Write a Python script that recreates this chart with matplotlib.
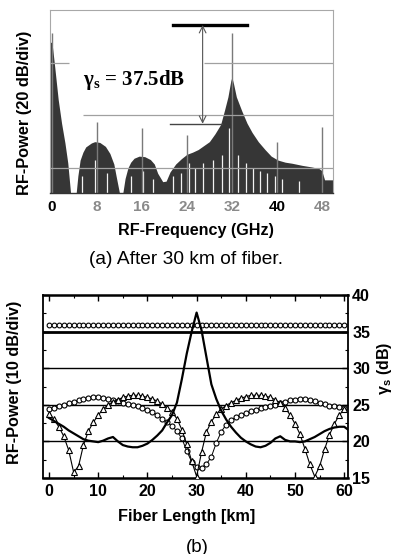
import numpy as np
import matplotlib
matplotlib.use("Agg")
import matplotlib.pyplot as plt
from matplotlib.ticker import MultipleLocator

plt.rcParams["font.family"] = ["Liberation Sans", "DejaVu Sans"]
plt.rcParams["mathtext.default"] = "regular"

###############################################################################
# Datos (a): espectro RF tras 30 km
###############################################################################

floor_db = -69.5

env_f = [-0.4, 0.0, 0.5, 1.1, 1.7, 2.3, 2.8, 3.3,
         4.3, 4.6, 5.0, 5.5, 6.0, 7.0, 7.6, 8.5, 9.5, 10.3, 11.0, 11.4, 12.0,
         12.6, 13.0, 13.5, 14.0, 14.6, 15.5, 16.5, 17.5, 18.2, 18.8, 19.7,
         20.3, 21.0, 22.0, 23.0, 24.0, 25.0, 26.0, 27.0, 28.0, 29.0, 30.0,
         30.7, 31.3, 31.8, 32.0, 32.3, 32.8, 33.8, 34.7, 35.6, 36.7, 37.9,
         39.0, 40.2, 41.5, 42.7, 44.5, 46.2, 47.5, 48.0, 48.5, 50.2]
env_db = [-12.0, -12.5, -22.0, -34.0, -43.0, -50.5, -58.0, floor_db,
          floor_db, -63.0, -57.0, -54.0, -52.0, -50.5, -50.0, -50.3, -51.8, -54.5, -58.5, -63.0, floor_db,
          floor_db, -64.0, -60.0, -57.8, -56.3, -55.5, -55.7, -56.8, -58.5, -62.0, -65.2,
          -65.0, -61.5, -58.5, -56.5, -54.8, -54.0, -53.0, -51.5, -50.0, -47.0, -43.5,
          -38.0, -33.0, -27.0, -25.5, -28.0, -33.0, -38.5, -43.0, -46.5, -50.0, -53.0,
          -55.5, -57.0, -57.8, -58.2, -59.0, -59.6, -60.2, -61.0, -64.5, -64.5]

spike_f = [0, 8, 16, 24, 32, 40, 48]
spike_db = [-8.7, -42.5, -45.0, -47.4, -8.7, -50.0, -44.4]

notch_f = [5.3, 7.6, 9.8, 14.0, 16.2, 18.0, 21.5, 23.0, 24.3, 25.4, 26.8,
           28.6, 30.2, 31.5, 33.1, 34.5, 35.8, 37.0, 38.2, 39.6, 41.0, 44.0]
notch_db = [-63.0, -57.0, -62.0, -63.0, -61.0, -64.0, -63.0, -62.0, -58.0, -60.0, -58.0,
            -57.0, -55.0, -45.0, -55.0, -58.0, -60.0, -61.0, -62.0, -63.0, -64.0, -65.0]

freq_ticks = [0, 8, 16, 24, 32, 40, 48]
freq_tick_colors = ["black", "#8a8a8a", "#8a8a8a", "#8a8a8a", "#8a8a8a", "black", "#8a8a8a"]

gamma_a = 37.5
ref_top_db = -5.7

###############################################################################
# Datos (b): potencia RF y gamma_s frente a longitud de fibra
###############################################################################

km = list(range(61))

circ = [24.4, 24.6, 24.8, 25.0, 25.2, 25.4, 25.6, 25.8, 25.9, 26.0,
        26.0, 25.9, 25.8, 25.6, 25.5, 25.3, 25.1, 25.0, 24.8, 24.6,
        24.3, 24.0, 23.6, 23.1, 22.6, 22.1, 21.4, 20.4, 18.7, 17.2,
        16.5, 16.4, 16.9, 17.9, 19.8, 21.3, 22.3, 22.9, 23.3, 23.6,
        23.9, 24.1, 24.3, 24.5, 24.7, 24.9, 25.0, 25.2, 25.4, 25.6,
        25.7, 25.8, 25.8, 25.7, 25.5, 25.3, 25.1, 24.9, 24.8, 24.7, 24.6]

tri = [23.8, 23.0, 22.0, 20.7, 18.8, 15.8, 16.6, 19.5, 21.4, 22.6,
       23.6, 24.4, 25.0, 25.4, 25.7, 26.0, 26.2, 26.3, 26.3, 26.2,
       26.0, 25.8, 25.5, 25.1, 24.6, 24.0, 23.1, 21.6, 19.6, 17.3,
       15.2, 18.5, 21.3, 22.7, 23.7, 24.4, 24.9, 25.3, 25.6, 25.9,
       26.1, 26.3, 26.3, 26.3, 26.2, 26.0, 25.7, 25.2, 24.6, 23.6,
       22.4, 21.0, 19.0, 16.9, 15.2, 16.6, 18.9, 20.9, 22.4, 23.6, 24.4]

km_g = km + [60.8]
gam = [23.2, 22.8, 22.4, 22.0, 21.5, 21.1, 20.7, 20.3, 20.1, 20.0,
       19.9, 20.1, 20.4, 20.6, 20.0, 19.5, 19.3, 19.2, 19.2, 19.4,
       19.7, 20.2, 20.8, 21.5, 22.6, 23.6, 25.3, 28.5, 32.0, 35.0,
       37.6, 35.2, 31.5, 27.8, 25.8, 24.2, 23.0, 22.0, 21.2, 20.5,
       20.0, 19.6, 19.3, 19.2, 19.4, 19.8, 20.4, 20.7, 20.2, 20.0,
       20.0, 19.9, 20.0, 20.3, 20.6, 21.0, 21.4, 21.7, 21.9, 22.0,
       22.0, 21.6]

top_circ = [35.9] * 61

###############################################################################
# Figura
###############################################################################

fig = plt.figure(figsize=(3.97, 5.54), dpi=100)

# ---------------- (a) ----------------
ax1 = fig.add_axes([50 / 397, 1 - 193 / 554, 283 / 397, 183 / 554])
ax1.set_xlim(-0.36, 50.0)
ax1.set_ylim(floor_db, 0)

ax1.fill_between(env_f, floor_db, env_db, color="#363636", lw=0, zorder=2)
ax1.vlines(notch_f, floor_db, notch_db, color="#f2f2f2", lw=0.9, zorder=2.2)
ax1.vlines(spike_f, floor_db, spike_db, color="#7a7a7a", lw=1.0, zorder=2.4)

# rejilla parcial (como en la imagen escaneada)
ax1.hlines(-20, 27.0, 50.0, color="#a0a0a0", lw=0.9, zorder=2.5)
ax1.hlines(-20, -0.4, 3.0, color="#a0a0a0", lw=0.9, zorder=2.5)
ax1.hlines(-40, 5.5, 50.0, color="#a0a0a0", lw=0.9, zorder=2.5)
ax1.hlines(-60, -0.4, 50.0, color="#a0a0a0", lw=0.9, zorder=2.5)

# anotacion gamma_s
ax1.plot([21.5, 34.7], [ref_top_db] * 2, color="black", lw=2.4, zorder=3)
ax1.plot([21.0, 30.2], [ref_top_db - gamma_a] * 2, color="#444444", lw=1.0, zorder=3)
ax1.annotate("", xy=(26.8, ref_top_db), xytext=(26.8, ref_top_db - gamma_a),
             arrowprops=dict(arrowstyle="<->", color="#555555", lw=0.8,
                             mutation_scale=12, shrinkA=0, shrinkB=0), zorder=3)
ax1.text(5.5, -26.6, "γ$_s$ = %.1fdB" % gamma_a, family="Liberation Serif",
         fontweight="bold", fontsize=15, va="center", ha="left", zorder=4)

ax1.set_xticks(freq_ticks)
ax1.set_xticklabels([str(t) for t in freq_ticks], fontweight="bold", fontsize=11)
for lab, c in zip(ax1.get_xticklabels(), freq_tick_colors):
    lab.set_color(c)
ax1.tick_params(axis="x", length=0, pad=5)
ax1.set_yticks([])
for side in ["left", "top", "right"]:
    ax1.spines[side].set_color("#a8a8a8")
    ax1.spines[side].set_linewidth(0.8)
ax1.spines["bottom"].set_color("#333333")
ax1.spines["bottom"].set_linewidth(1.0)

fig.text(25 / 397, 1 - 113 / 554, "RF-Power (20 dB/div)", rotation=90,
         ha="center", va="center", fontweight="bold", fontsize=11.8)
fig.text(196 / 397, 1 - 230 / 554, "RF-Frequency (GHz)",
         ha="center", va="center", fontweight="bold", fontsize=11.6)
fig.text(186 / 397, 1 - 260 / 554, "(a) After 30 km of fiber.",
         ha="center", va="center", fontsize=13.8)

# ---------------- (b) ----------------
ax2 = fig.add_axes([43 / 397, 1 - 478 / 554, 305 / 397, 183 / 554])
ax2.set_xlim(-1.22, 60.77)
ax2.set_ylim(15, 40)

for lvl in [20, 25, 30]:
    ax2.axhline(lvl, color="black", lw=1.0, zorder=1)
ax2.axhline(35, color="black", lw=2.0, zorder=1)

ax2.plot(km, top_circ, "o", ms=3.4, mfc="white", mec="black", mew=0.8, zorder=3)
ax2.plot(km, circ, "-o", color="black", lw=0.7, ms=3.6, mfc="white",
         mec="black", mew=0.8, zorder=3)
ax2.plot(km, tri, "-^", color="black", lw=0.8, ms=3.8, mfc="white",
         mec="black", mew=0.8, zorder=3)
ax2.plot(km_g, gam, "-", color="black", lw=1.6, zorder=4)

ax2.xaxis.set_major_locator(MultipleLocator(10))
ax2.xaxis.set_minor_locator(MultipleLocator(5))
ax2.yaxis.set_major_locator(MultipleLocator(5))
ax2.yaxis.set_minor_locator(MultipleLocator(2.5))
ax2.tick_params(axis="both", which="both", direction="in", top=True,
                left=True, right=True, labelleft=False, labelright=True)
ax2.tick_params(axis="both", which="major", length=4, width=1.0)
ax2.tick_params(axis="both", which="minor", length=2.5, width=0.8)
ax2.tick_params(axis="x", pad=4)
ax2.tick_params(axis="y", pad=3)
for lab in ax2.get_xticklabels() + ax2.get_yticklabels():
    lab.set_fontweight("bold")
    lab.set_fontsize(11.5)
ax2.spines["top"].set_linewidth(1.8)
ax2.spines["bottom"].set_linewidth(1.8)
ax2.spines["left"].set_linewidth(1.3)
ax2.spines["right"].set_linewidth(1.3)

fig.text(15 / 397, 1 - 382 / 554, "RF-Power (10 dB/div)", rotation=90,
         ha="center", va="center", fontweight="bold", fontsize=11.7)
fig.text(384 / 397, 1 - 368 / 554, "γ$_s$ (dB)", rotation=90,
         ha="center", va="center", fontweight="bold", fontsize=11.5)
fig.text(187 / 397, 1 - 517 / 554, "Fiber Length [km]",
         ha="center", va="center", fontweight="bold", fontsize=11.7)
fig.text(197 / 397, 1 - 547 / 554, "(b)", ha="center", va="center", fontsize=13.5)

fig.savefig("out.png", dpi=100)
